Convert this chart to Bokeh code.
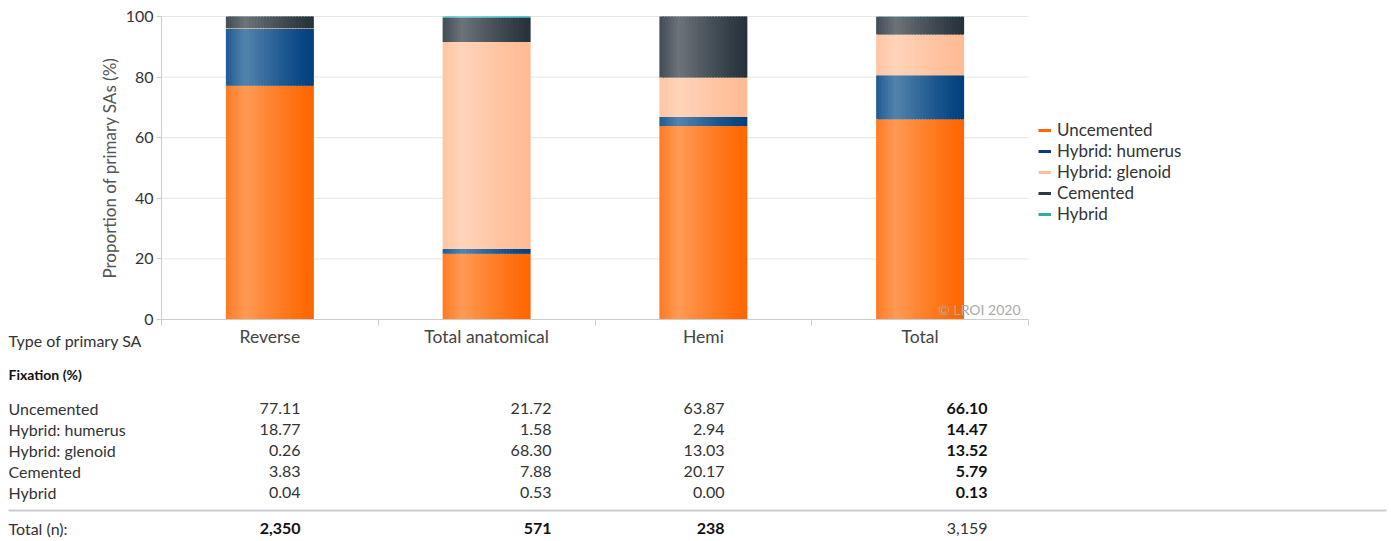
import numpy as np
from bokeh.plotting import figure
from bokeh.models import Range1d, FixedTicker, Legend, LegendItem, LinearAxis
from bokeh.core.properties import value
from bokeh.embed import file_html
from bokeh.resources import INLINE

# ---------------- data ----------------
categories = ["Reverse", "Total anatomical", "Hemi", "Total"]
fixations = ["Uncemented", "Hybrid: humerus", "Hybrid: glenoid", "Cemented", "Hybrid"]
uncemented = [77.11, 21.72, 63.87, 66.10]
hybrid_humerus = [18.77, 1.58, 2.94, 14.47]
hybrid_glenoid = [0.26, 68.30, 13.03, 13.52]
cemented = [3.83, 7.88, 20.17, 5.79]
hybrid = [0.04, 0.53, 0.00, 0.13]
total_n = [2350, 571, 238, 3159]
y_ticks = [0, 20, 40, 60, 80, 100]

series = [uncemented, hybrid_humerus, hybrid_glenoid, cemented, hybrid]

# ---------------- style / layout ----------------
FONT = "Lato"
dark_cols = ["#ff6600", "#003f7f", "#ffbb94", "#26323b", "#2aa9b0"]
light_cols = ["#ff9a55", "#5384ad", "#ffd4ba", "#6c747a", "#66c8cb"]
legend_cols = ["#ff6600", "#003f7f", "#ffbf99", "#2d3a43", "#33aaaa"]
BAR_W = 0.406
N_STRIPS = 30

W, H = 1391, 541
PLOT_LEFT, PLOT_TOP, PLOT_W, PLOT_H = 161, 16, 867, 303
NCAT = len(categories)
YMAX = 100


def hex2rgb(h):
    h = h.lstrip("#")
    return np.array([int(h[i:i + 2], 16) for i in (0, 2, 4)], dtype=float)


def mix(a, b, w):
    c = hex2rgb(a) * (1 - w) + hex2rgb(b) * w
    return "#%02x%02x%02x" % tuple(int(round(v)) for v in c)


def weight(t):
    if t < 0.22:
        return 0.4 + 0.6 * t / 0.22
    return max(0.0, 1.0 - (t - 0.22) / 0.78) ** 1.2


# page pixel -> data coordinates (category units / percent)
def X(px):
    return (px - PLOT_LEFT) / PLOT_W * NCAT


def Y(py):
    return (PLOT_TOP + PLOT_H - py) / PLOT_H * YMAX


p = figure(width=W, height=H, x_range=Range1d(X(0), X(W)), y_range=Range1d(Y(H), Y(0)),
           output_backend="svg", toolbar_location=None, min_border=0,
           x_axis_location=None, y_axis_location=None)
p.outline_line_color = None
p.grid.visible = False

# grid lines (only across the plot area)
p.segment(x0=[0] * len(y_ticks), x1=[NCAT] * len(y_ticks), y0=y_ticks, y1=y_ticks,
          line_color="#e6e6e6", line_width=1)

# stacked bars with a soft horizontal gradient
xc = np.arange(NCAT) + 0.5
cum = np.zeros(NCAT)
strip_w = BAR_W / N_STRIPS
for si, vals in enumerate(series):
    v = np.array(vals, dtype=float)
    bottom = cum.copy()
    top = cum + v
    for k in range(N_STRIPS):
        t = (k + 0.5) / N_STRIPS
        left = xc - BAR_W / 2 + k * strip_w
        right = left + (strip_w * 1.6 if k < N_STRIPS - 1 else strip_w)
        p.quad(left=list(left), right=list(right), bottom=list(bottom), top=list(top),
               fill_color=mix(dark_cols[si], light_cols[si], weight(t)),
               line_color=None)
    cum = top

# axes at fixed locations
yax = LinearAxis(fixed_location=0, bounds=(0, YMAX), ticker=FixedTicker(ticks=y_ticks))
yax.major_label_text_font = FONT
yax.major_label_text_font_size = "16px"
yax.major_label_text_color = "#333333"
yax.major_label_standoff = 3
yax.axis_line_color = "#cccccc"
yax.major_tick_line_color = "#cccccc"
yax.major_tick_out = 5
yax.major_tick_in = 0
yax.minor_tick_line_color = None
p.add_layout(yax, "left")

xax = LinearAxis(fixed_location=0, bounds=(0, NCAT),
                 ticker=FixedTicker(ticks=[], minor_ticks=list(range(NCAT + 1))))
xax.major_tick_line_color = None
xax.minor_tick_line_color = "#cccccc"
xax.minor_tick_out = 6
xax.minor_tick_in = 0
xax.axis_line_color = "#cccccc"
p.add_layout(xax, "below")

p.text(x=[X(109)], y=[YMAX / 2], text=["Proportion of primary SAs (%)"], angle=np.pi / 2,
       text_font=value(FONT), text_font_size="17px", text_color="#555555",
       text_align="center", text_baseline="middle")

# legend with short line markers
items = []
for name, col in zip(fixations, legend_cols):
    r = p.line(x=[np.nan], y=[np.nan], line_color=col, line_width=3)
    items.append(LegendItem(label=name, renderers=[r]))
legend = Legend(items=items, glyph_width=13, glyph_height=20, label_height=20,
                spacing=0, padding=0, margin=0, label_standoff=6,
                label_text_font=FONT, label_text_font_size="17px",
                label_text_color="#333333", border_line_color=None,
                background_fill_alpha=0, location=(1038, H - 224))
p.add_layout(legend)

p.text(x=[NCAT], y=[0], x_offset=-8, y_offset=-2, text=["© LROI 2020"],
       text_font=value(FONT), text_font_size="14px", text_color="#aaaaaa",
       text_align="right", text_baseline="bottom")

# ---------------- table ----------------
TXT = "#333333"
BOLD = "#111111"
col_right = [300, 551, 724, 987]
row_y = [407.5 + 21 * i for i in range(len(fixations))]

p.text(x=[X(8)], y=[Y(340)], text=["Type of primary SA"], text_font=value(FONT),
       text_font_size="16px", text_color=TXT, text_baseline="middle")
p.text(x=list(xc), y=[Y(336)] * NCAT, text=categories, text_font=value(FONT),
       text_font_size="17.5px", text_color="#444444", text_align="center",
       text_baseline="middle")
p.text(x=[X(8)], y=[Y(374)], text=["Fixation (%)"], text_font=value(FONT),
       text_font_size="14px", text_font_style="bold", text_color=BOLD,
       text_baseline="middle")

p.text(x=[X(8)] * len(fixations), y=[Y(r) for r in row_y], text=fixations,
       text_font=value(FONT), text_font_size="16px", text_color=TXT,
       text_baseline="middle")
for ci in range(NCAT):
    bold = ci == NCAT - 1
    p.text(x=[X(col_right[ci])] * len(fixations), y=[Y(r) for r in row_y],
           text=["%.2f" % s[ci] for s in series], text_font=value(FONT),
           text_font_size="16px", text_font_style="bold" if bold else "normal",
           text_color=BOLD if bold else TXT, text_align="right", text_baseline="middle")

p.segment(x0=[X(8)], x1=[X(1386)], y0=[Y(510)], y1=[Y(510)], line_color="#cccccc",
          line_width=2)

p.text(x=[X(8)], y=[Y(528)], text=["Total (n):"], text_font=value(FONT),
       text_font_size="16px", text_color=TXT, text_baseline="middle")
for ci in range(NCAT):
    bold = ci < NCAT - 1
    p.text(x=[X(col_right[ci])], y=[Y(528)], text=["{:,}".format(total_n[ci])],
           text_font=value(FONT), text_font_size="16px",
           text_font_style="bold" if bold else "normal",
           text_color=BOLD if bold else TXT, text_align="right", text_baseline="middle")

open("out.html", "w").write(file_html(p, INLINE))
